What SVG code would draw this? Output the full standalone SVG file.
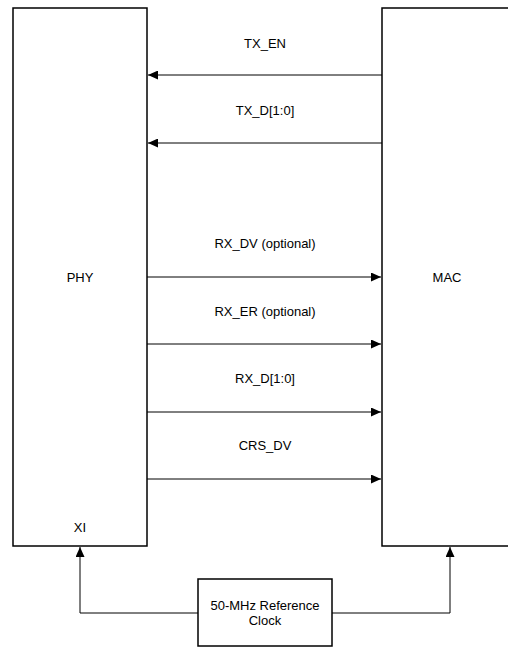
<svg xmlns="http://www.w3.org/2000/svg" width="508" height="647" viewBox="0 0 508 647">
<style>
.box{fill:#fff;stroke:#000;stroke-width:1.5}
.wire{fill:none;stroke:#000;stroke-width:1}
text{font-family:"Liberation Sans",Arial,sans-serif;font-size:13px;fill:#000;text-anchor:middle}
</style>
<defs>
<marker id="ah" viewBox="0 0 10 9" refX="10" refY="4.5" markerWidth="10" markerHeight="9" markerUnits="userSpaceOnUse" orient="auto">
<path d="M0,0 L10,4.5 L0,9 Z" fill="#000"/>
</marker>
</defs>
<g id="phy"><rect class="box" x="13" y="8" width="134" height="538"/><text x="80" y="282">PHY</text><text x="80" y="532">XI</text></g>
<g id="mac"><rect class="box" x="382" y="8" width="130" height="538"/><text x="447" y="282">MAC</text></g>
<g id="clock"><rect class="box" x="198" y="579" width="134" height="67"/><text x="265" y="610">50-MHz Reference</text><text x="265" y="625">Clock</text></g>
<g id="connectors">
<line class="wire" x1="382" y1="75" x2="148" y2="75" marker-end="url(#ah)"/>
<line class="wire" x1="382" y1="143" x2="148" y2="143" marker-end="url(#ah)"/>
<line class="wire" x1="147" y1="277" x2="381" y2="277" marker-end="url(#ah)"/>
<line class="wire" x1="147" y1="344" x2="381" y2="344" marker-end="url(#ah)"/>
<line class="wire" x1="147" y1="412" x2="381" y2="412" marker-end="url(#ah)"/>
<line class="wire" x1="147" y1="479" x2="381" y2="479" marker-end="url(#ah)"/>
<polyline class="wire" points="198,613 80,613 80,547" marker-end="url(#ah)"/>
<polyline class="wire" points="332,613 450,613 450,547" marker-end="url(#ah)"/>
<text x="265" y="48">TX_EN</text>
<text x="265" y="115">TX_D[1:0]</text>
<text x="265" y="248">RX_DV (optional)</text>
<text x="265" y="316">RX_ER (optional)</text>
<text x="265" y="383">RX_D[1:0]</text>
<text x="265" y="450">CRS_DV</text>
</g>
</svg>
